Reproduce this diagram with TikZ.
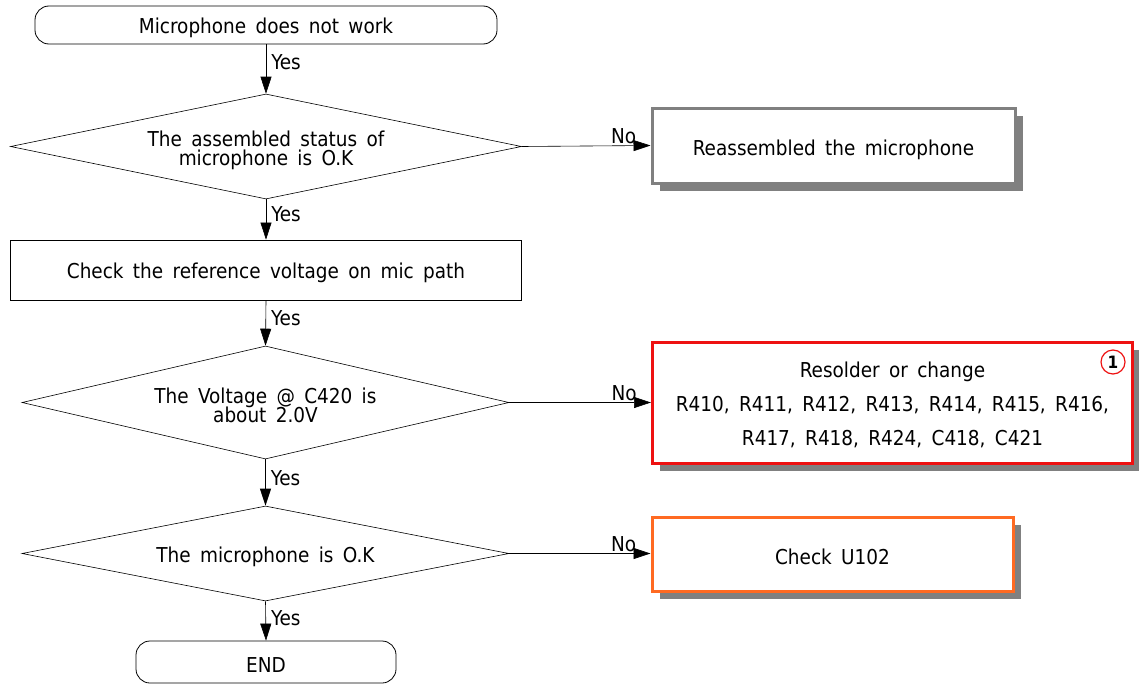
\documentclass[tikz,border=0pt]{standalone}
\usepackage{fontspec}
\setmainfont{DejaVu Sans Condensed}[WordSpace=1.6]
\usetikzlibrary{shapes.geometric,arrows.meta}
\definecolor{boxgray}{HTML}{808080}
\definecolor{boxred}{HTML}{EE1111}
\definecolor{boxorange}{HTML}{FF6A22}
\begin{document}
\begin{tikzpicture}[x=1pt,y=-1pt,
  every node/.style={font=\fontsize{20.5}{20}\selectfont, inner sep=0pt, text=black},
  term/.style={draw, rounded corners=14pt, line width=0.8pt},
  decision/.style={draw, diamond, line width=0.6pt},
  procbox/.style={draw, line width=0.8pt},
  shadowed/.style={fill=white, line width=3pt},
  txt/.style={align=center},
  conn/.style={line width=0.6pt, -{Triangle[length=17pt,width=11pt]}},
  lbl/.style={anchor=west}]
\useasboundingbox (0,0) rectangle (1139,685);
% start
\node[term, minimum width=462pt, minimum height=38pt] (start) at (266,25) {};
\node[txt] (startt) at ([yshift=-3pt]start.center) {Microphone does not work};
% decision 1
\node[decision, aspect=4.867, minimum width=511pt, minimum height=105pt] (d1) at (266,146.5) {};
\node[txt] (d1t) at ([yshift=-3.5pt]d1.center) {The assembled status of\\[-1pt]microphone is O.K};
% box 1 (gray)
\fill[boxgray] (660,116) rectangle (1023,191);
\node[procbox, shadowed, draw=boxgray, minimum width=363pt, minimum height=75pt] (b1) at (833.5,145.5) {};
\node[txt] (b1t) at ([yshift=-4pt]b1.center) {Reassembled the microphone};
% check rect
\node[procbox, minimum width=511pt, minimum height=60pt] (chk) at (266,270) {};
\node[txt] (chkt) at ([yshift=-3pt]chk.center) {Check the reference voltage on mic path};
% decision 2
\node[decision, aspect=4.31, minimum width=487pt, minimum height=113pt] (d2) at (265.5,402.5) {};
\node[txt] (d2t) at ([yshift=-3pt]d2.center) {The Voltage @ C420 is\\[-1pt]about 2.0V};
% red box
\fill[boxgray] (660,350) rectangle (1139,471);
\node[procbox, shadowed, draw=boxred, minimum width=480pt, minimum height=121pt] (b2) at (892.5,403) {};
\node[txt] (b2t) at ([yshift=-2pt]b2.center)
  {Resolder or change\\[14pt]R410, R411, R412, R413, R414, R415, R416,\\[14pt]R417, R418, R424, C418, C421};
\node[draw=boxred, circle, line width=1.2pt, minimum size=24pt, font=\fontsize{17}{17}\selectfont\bfseries] (num) at (1113,362) {1};
% decision 3
\node[decision, aspect=5.126, minimum width=487pt, minimum height=95pt] (d3) at (265.5,553.5) {};
\node[txt] (d3t) at ([yshift=-3pt]d3.center) {The microphone is O.K};
% orange box
\fill[boxgray] (660,525) rectangle (1021,599);
\node[procbox, shadowed, draw=boxorange, minimum width=361pt, minimum height=74pt] (b3) at (832.5,554) {};
\node[txt] (b3t) at ([yshift=-3pt]b3.center) {Check U102};
% end
\node[term, minimum width=260pt, minimum height=42pt] (end) at (266,662) {};
\node[txt] (endt) at ([yshift=-3pt]end.center) {END};
% connectors
\draw[conn] (start) -- (d1.north) node[lbl, pos=0.36, xshift=5pt] {Yes};
\draw[conn] (d1.south) -- (chk.north) node[lbl, pos=0.38, xshift=5pt] {Yes};
\draw[conn] (chk.south) -- (d2.north) node[lbl, pos=0.4, xshift=5pt] {Yes};
\draw[conn] (d2.south) -- (d3.north) node[lbl, pos=0.4, xshift=5pt] {Yes};
\draw[conn] (d3.south) -- (end.north) node[lbl, pos=0.42, xshift=5pt] {Yes};
\draw[conn] (d1.east) -- (b1.west) node[anchor=south east, pos=1, xshift=-14pt, yshift=1pt] {No};
\draw[conn] (d2.east) -- (b2.west|-d2.east) node[anchor=south east, pos=1, xshift=-14pt, yshift=1pt] {No};
\draw[conn] (d3.east) -- (b3.west|-d3.east) node[anchor=south east, pos=1, xshift=-14pt, yshift=1pt] {No};
\end{tikzpicture}
\end{document}
